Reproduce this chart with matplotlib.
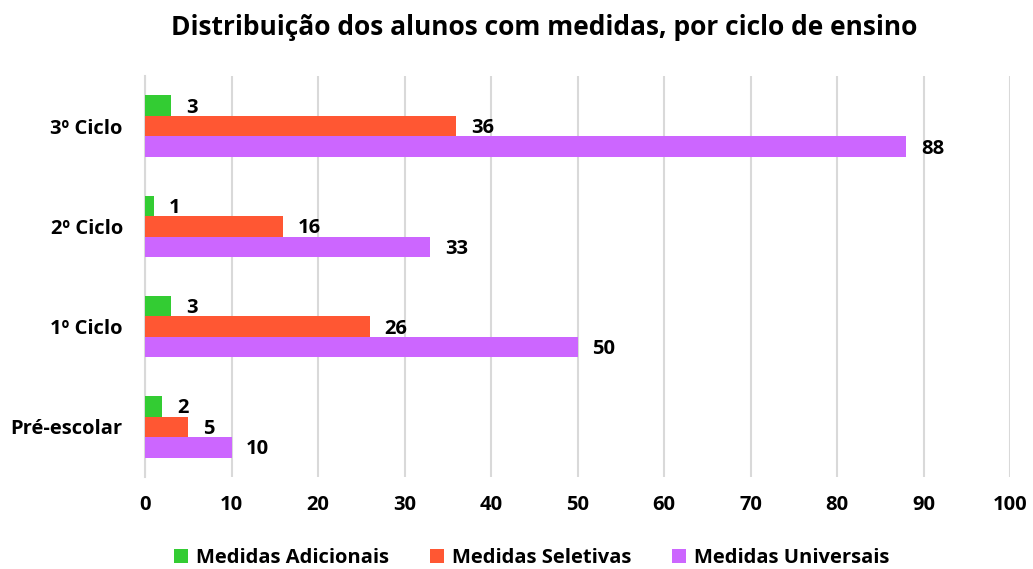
import numpy as np
import matplotlib
matplotlib.use("Agg")
import matplotlib.pyplot as plt

plt.rcParams['font.family'] = ['Open Sans', 'DejaVu Sans']
plt.rcParams['font.weight'] = 'bold'

ciclos = ['Pré-escolar', '1º Ciclo', '2º Ciclo', '3º Ciclo']
adicionais = [2, 3, 1, 3]
seletivas = [5, 26, 16, 36]
universais = [10, 50, 33, 88]

series = [('Medidas Adicionais', adicionais, '#33CC33'),
          ('Medidas Seletivas', seletivas, '#FF5733'),
          ('Medidas Universais', universais, '#CC66FF')]

fig = plt.figure(figsize=(10.33, 5.69), dpi=100)
ax = fig.add_axes([0.1404, 0.1617, 0.8374, 0.7047])

y = np.arange(len(ciclos))
h = 0.205
for i, (nome, vals, cor) in enumerate(series):
    pos = y + h * (1 - i)
    ax.barh(pos, vals, height=h, color=cor, label=nome, zorder=3)
    for p, v in zip(pos, vals):
        ax.text(v + 1.7, p - 0.02, str(v), va='center', ha='left',
                fontsize=14.5, fontweight='bold', color='black')

ax.set_xlim(0, 100)
ax.set_ylim(-0.5, 3.5)
ax.set_xticks(range(0, 101, 10))
ax.set_yticks(y)
ax.set_yticklabels(ciclos)
ax.tick_params(axis='both', length=0, labelsize=14.5)
ax.tick_params(axis='x', pad=13)
ax.tick_params(axis='y', pad=16)
ax.grid(axis='x', color='#D9D9D9', linewidth=1.5, zorder=0)
for s in ['top', 'right', 'bottom']:
    ax.spines[s].set_visible(False)
ax.spines['left'].set_color('#D9D9D9')
ax.spines['left'].set_linewidth(1.5)

fig.suptitle('Distribuição dos alunos com medidas, por ciclo de ensino',
             x=0.527, y=0.975, fontsize=19, fontweight='bold')

ax.legend(loc='center', bbox_to_anchor=(0.447, -0.202), ncol=3, frameon=False,
          fontsize=14.5, handlelength=0.7, handleheight=0.7, handletextpad=0.4,
          columnspacing=2.0)

fig.savefig('out.png', dpi=100)
